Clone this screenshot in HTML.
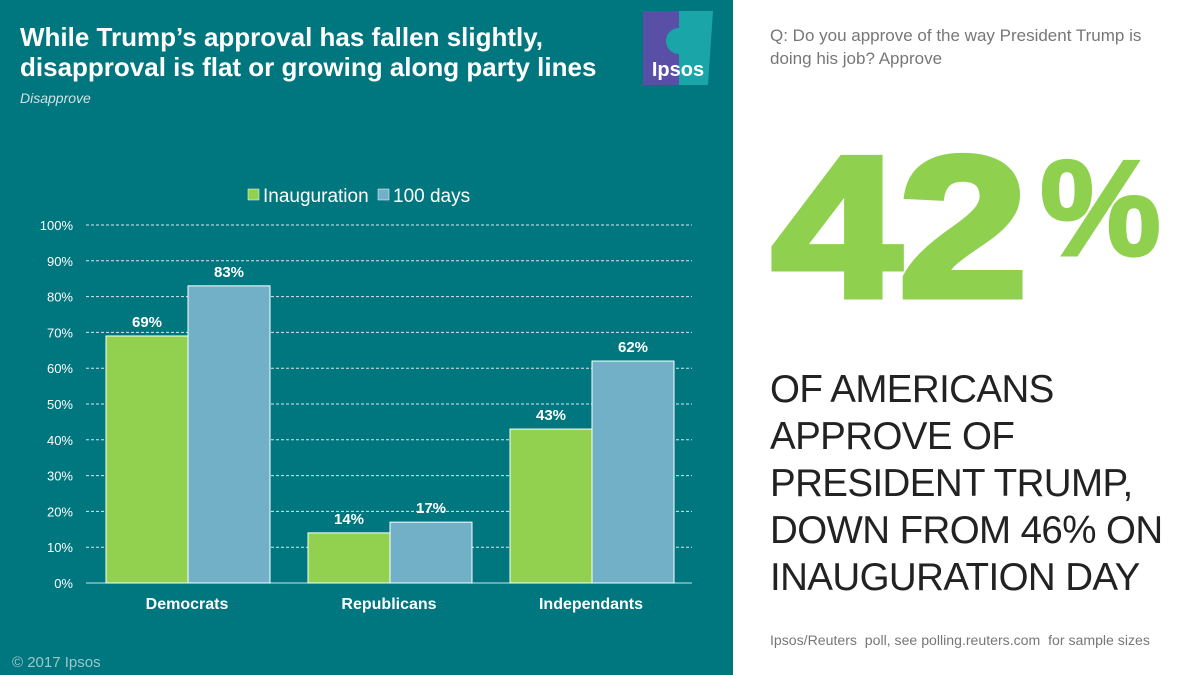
<!DOCTYPE html>
<html><head><meta charset="utf-8"><style>
body{margin:0;width:1200px;height:675px;overflow:hidden;font-family:"Liberation Sans",sans-serif;background:#fff;position:relative}
#left{position:absolute;left:0;top:0;width:733px;height:675px;background:#00767f}
.t{position:absolute;white-space:nowrap}
</style></head><body>
<div id="left">
<div class="t" style="left:20px;top:22px;color:#fff;font-weight:bold;font-size:26px;line-height:30px">While Trump’s approval has fallen slightly,<br>disapproval is flat or growing along party lines</div>
<div class="t" style="left:20px;top:90px;color:#cfe3e5;font-style:italic;font-size:14px">Disapprove</div>
<div style="position:absolute;left:643px;top:11px;width:70px;height:74px">
<svg width="70" height="74"><rect x="0" y="0" width="36" height="74" fill="#5a4fa6"/><path d="M36 0H70L65 74H36Z" fill="#1aa6a8"/><circle cx="36" cy="30" r="13" fill="#1aa6a8"/><text x="35" y="65" fill="#fff" font-size="20" font-weight="bold" text-anchor="middle" font-family="Liberation Sans,sans-serif">Ipsos</text></svg></div>
<div class="t" style="left:12px;top:654px;color:#9ec7cb;font-size:15px">© 2017 Ipsos</div>
<svg id="chart" width="733" height="675" style="position:absolute;left:0;top:0"></svg>
</div>
<div class="t" style="left:770px;top:24px;color:#777;font-size:17px;line-height:23px">Q: Do you approve of the way President Trump is<br>doing his job? Approve</div>
<div class="t" style="left:772px;top:128px;color:#8fd14f;font-weight:bold;font-size:200px;line-height:200px;letter-spacing:-2px;-webkit-text-stroke:7px #8fd14f;transform:scaleX(1.16);transform-origin:left top">42</div>
<div class="t" style="left:1040px;top:140px;color:#8fd14f;font-weight:bold;font-size:136px;line-height:136px;-webkit-text-stroke:3px #8fd14f">%</div>
<div class="t" style="left:770px;top:366px;color:#222;font-size:38.5px;line-height:47px;letter-spacing:-0.6px">OF AMERICANS<br>APPROVE OF<br>PRESIDENT TRUMP,<br>DOWN FROM 46% ON<br>INAUGURATION DAY</div>
<div class="t" style="left:770px;top:632px;color:#777;font-size:14.1px">Ipsos/Reuters&nbsp; poll, see polling.reuters.com&nbsp; for sample sizes</div>
<script>
const categories=["Democrats","Republicans","Independants"];
const inauguration=[69,14,43];
const days100=[83,17,62];
const ticks=[0,10,20,30,40,50,60,70,80,90,100];
const seriesNames=["Inauguration","100 days"];
const svg=document.getElementById('chart');const NS="http://www.w3.org/2000/svg";
const x0=86,x1=692,yTop=225,yBot=583;
const y=v=>yBot-(v/100)*(yBot-yTop);
const gw=(x1-x0)/categories.length;
function el(t,a,p){const e=document.createElementNS(NS,t);for(const k in a)e.setAttribute(k,a[k]);(p||svg).appendChild(e);return e;}
ticks.forEach(t=>{
 const l=el('line',{x1:x0,x2:x1,y1:y(t),y2:y(t),stroke:t?'#d6e9eb':'#cfe3e5','stroke-dasharray':t?'3,2':'none','stroke-width':1});
 
 
 const tx=el('text',{x:73,y:y(t)+5,fill:'#fff','font-size':13,'text-anchor':'end'});tx.textContent=t+'%';
 
 
});
const colors=['#92d050','#72b0c8'];
[inauguration,days100].forEach((s,si)=>{
 s.forEach((v,i)=>{
  const bx=x0+gw*i+20+si*82;
  const r=el('rect',{x:bx,y:y(v),width:82,height:yBot-y(v),fill:colors[si],stroke:'#fff','stroke-width':1});
  
  
  const t=el('text',{x:bx+41,y:y(v)-9,fill:'#fff','font-size':15,'font-weight':'bold','text-anchor':'middle'});t.textContent=v+'%';
  
  
 });
 });
categories.forEach((c,i)=>{
 const t=el('text',{x:x0+gw*i+gw/2,y:609,fill:'#fff','font-size':16,'font-weight':'bold','text-anchor':'middle'});t.textContent=c;
 
 
});
const lx=[248,378];
seriesNames.forEach((n,i)=>{
 const r=el('rect',{x:lx[i],y:189,width:11,height:11,fill:colors[i],stroke:'#fff','stroke-width':0.5});
 
 
 const t=el('text',{x:lx[i]+15,y:202,fill:'#fff','font-size':19});t.textContent=n;
 
 
});
</script>
</body></html>
